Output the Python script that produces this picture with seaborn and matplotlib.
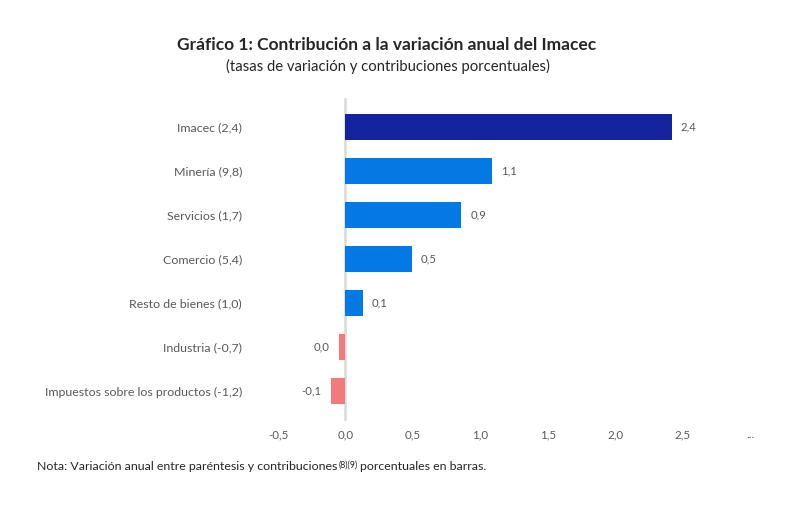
import matplotlib
matplotlib.use("Agg")
import matplotlib.pyplot as plt
import seaborn as sns
import pandas as pd

categories = ["Imacec (2,4)", "Minería (9,8)", "Servicios (1,7)", "Comercio (5,4)",
              "Resto de bienes (1,0)", "Industria (-0,7)", "Impuestos sobre los productos (-1,2)"]
values = [2.42, 1.09, 0.86, 0.49, 0.13, -0.05, -0.11]
value_labels = ["2,4", "1,1", "0,9", "0,5", "0,1", "0,0", "-0,1"]
colors = ["#14249e", "#0379e6", "#0379e6", "#0379e6", "#0379e6", "#f27a7c", "#f27a7c"]
xticks = [-0.5, 0.0, 0.5, 1.0, 1.5, 2.0, 2.5, 3.0]
xtick_labels = ["-0,5", "0,0", "0,5", "1,0", "1,5", "2,0", "2,5", "..."]

sns.set_theme(style="white")
plt.rcParams["font.family"] = ["Lato", "DejaVu Sans"]

W, H = 802, 514
fig = plt.figure(figsize=(W / 100, H / 100), dpi=100)
ax = fig.add_axes([278 / W, 1 - 421 / H, (750 - 278) / W, (421 - 98) / H])

df = pd.DataFrame({"cat": categories, "val": values})
sns.barplot(data=df, y="cat", x="val", hue="cat", palette=colors, legend=False,
            orient="h", width=0.59, ax=ax, saturation=1, linewidth=0)

for cont, lab in zip(ax.containers, value_labels):
    ax.bar_label(cont, labels=[lab], padding=6.5, fontsize=8.2, color="#595959")

ax.axvline(0, color="#d9d9d9", lw=1.8, zorder=0)
ax.set_xlim(-0.5, 3.0)
ax.set_ylim(6.68, -0.66)
ax.set_xticks(xticks)
ax.set_xticklabels(xtick_labels)
ax.set_xlabel("")
ax.set_ylabel("")
ax.tick_params(axis="x", length=0, pad=6, labelsize=8.3, labelcolor="#595959")
ax.tick_params(axis="y", length=0, pad=26, labelsize=8.95, labelcolor="#595959")
for s in ax.spines.values():
    s.set_visible(False)

fig.text(387 / W, 1 - 45 / H, "Gráfico 1: Contribución a la variación anual del Imacec",
         ha="center", va="center", fontsize=12.5, fontweight="bold", color="#262626")
fig.text(388 / W, 1 - 66 / H, "(tasas de variación y contribuciones porcentuales)",
         ha="center", va="center", fontsize=10.7, color="#262626")

# Note with small "(8)(9)"
fig.canvas.draw()
r = fig.canvas.get_renderer()
t1 = fig.text(37 / W, 1 - 466 / H, "Nota: Variación anual entre paréntesis y contribuciones",
              ha="left", va="center", fontsize=8.9, color="#262626")
bb = t1.get_window_extent(r)
t2 = fig.text(bb.x1 / W + 1 / W, 1 - 465 / H, "(8)(9)", ha="left", va="center",
              fontsize=6.3, color="#262626")
bb2 = t2.get_window_extent(r)
fig.text(bb2.x1 / W + 3 / W, 1 - 466 / H, "porcentuales en barras.", ha="left", va="center",
         fontsize=8.9, color="#262626")

fig.savefig("out.png", dpi=100)
